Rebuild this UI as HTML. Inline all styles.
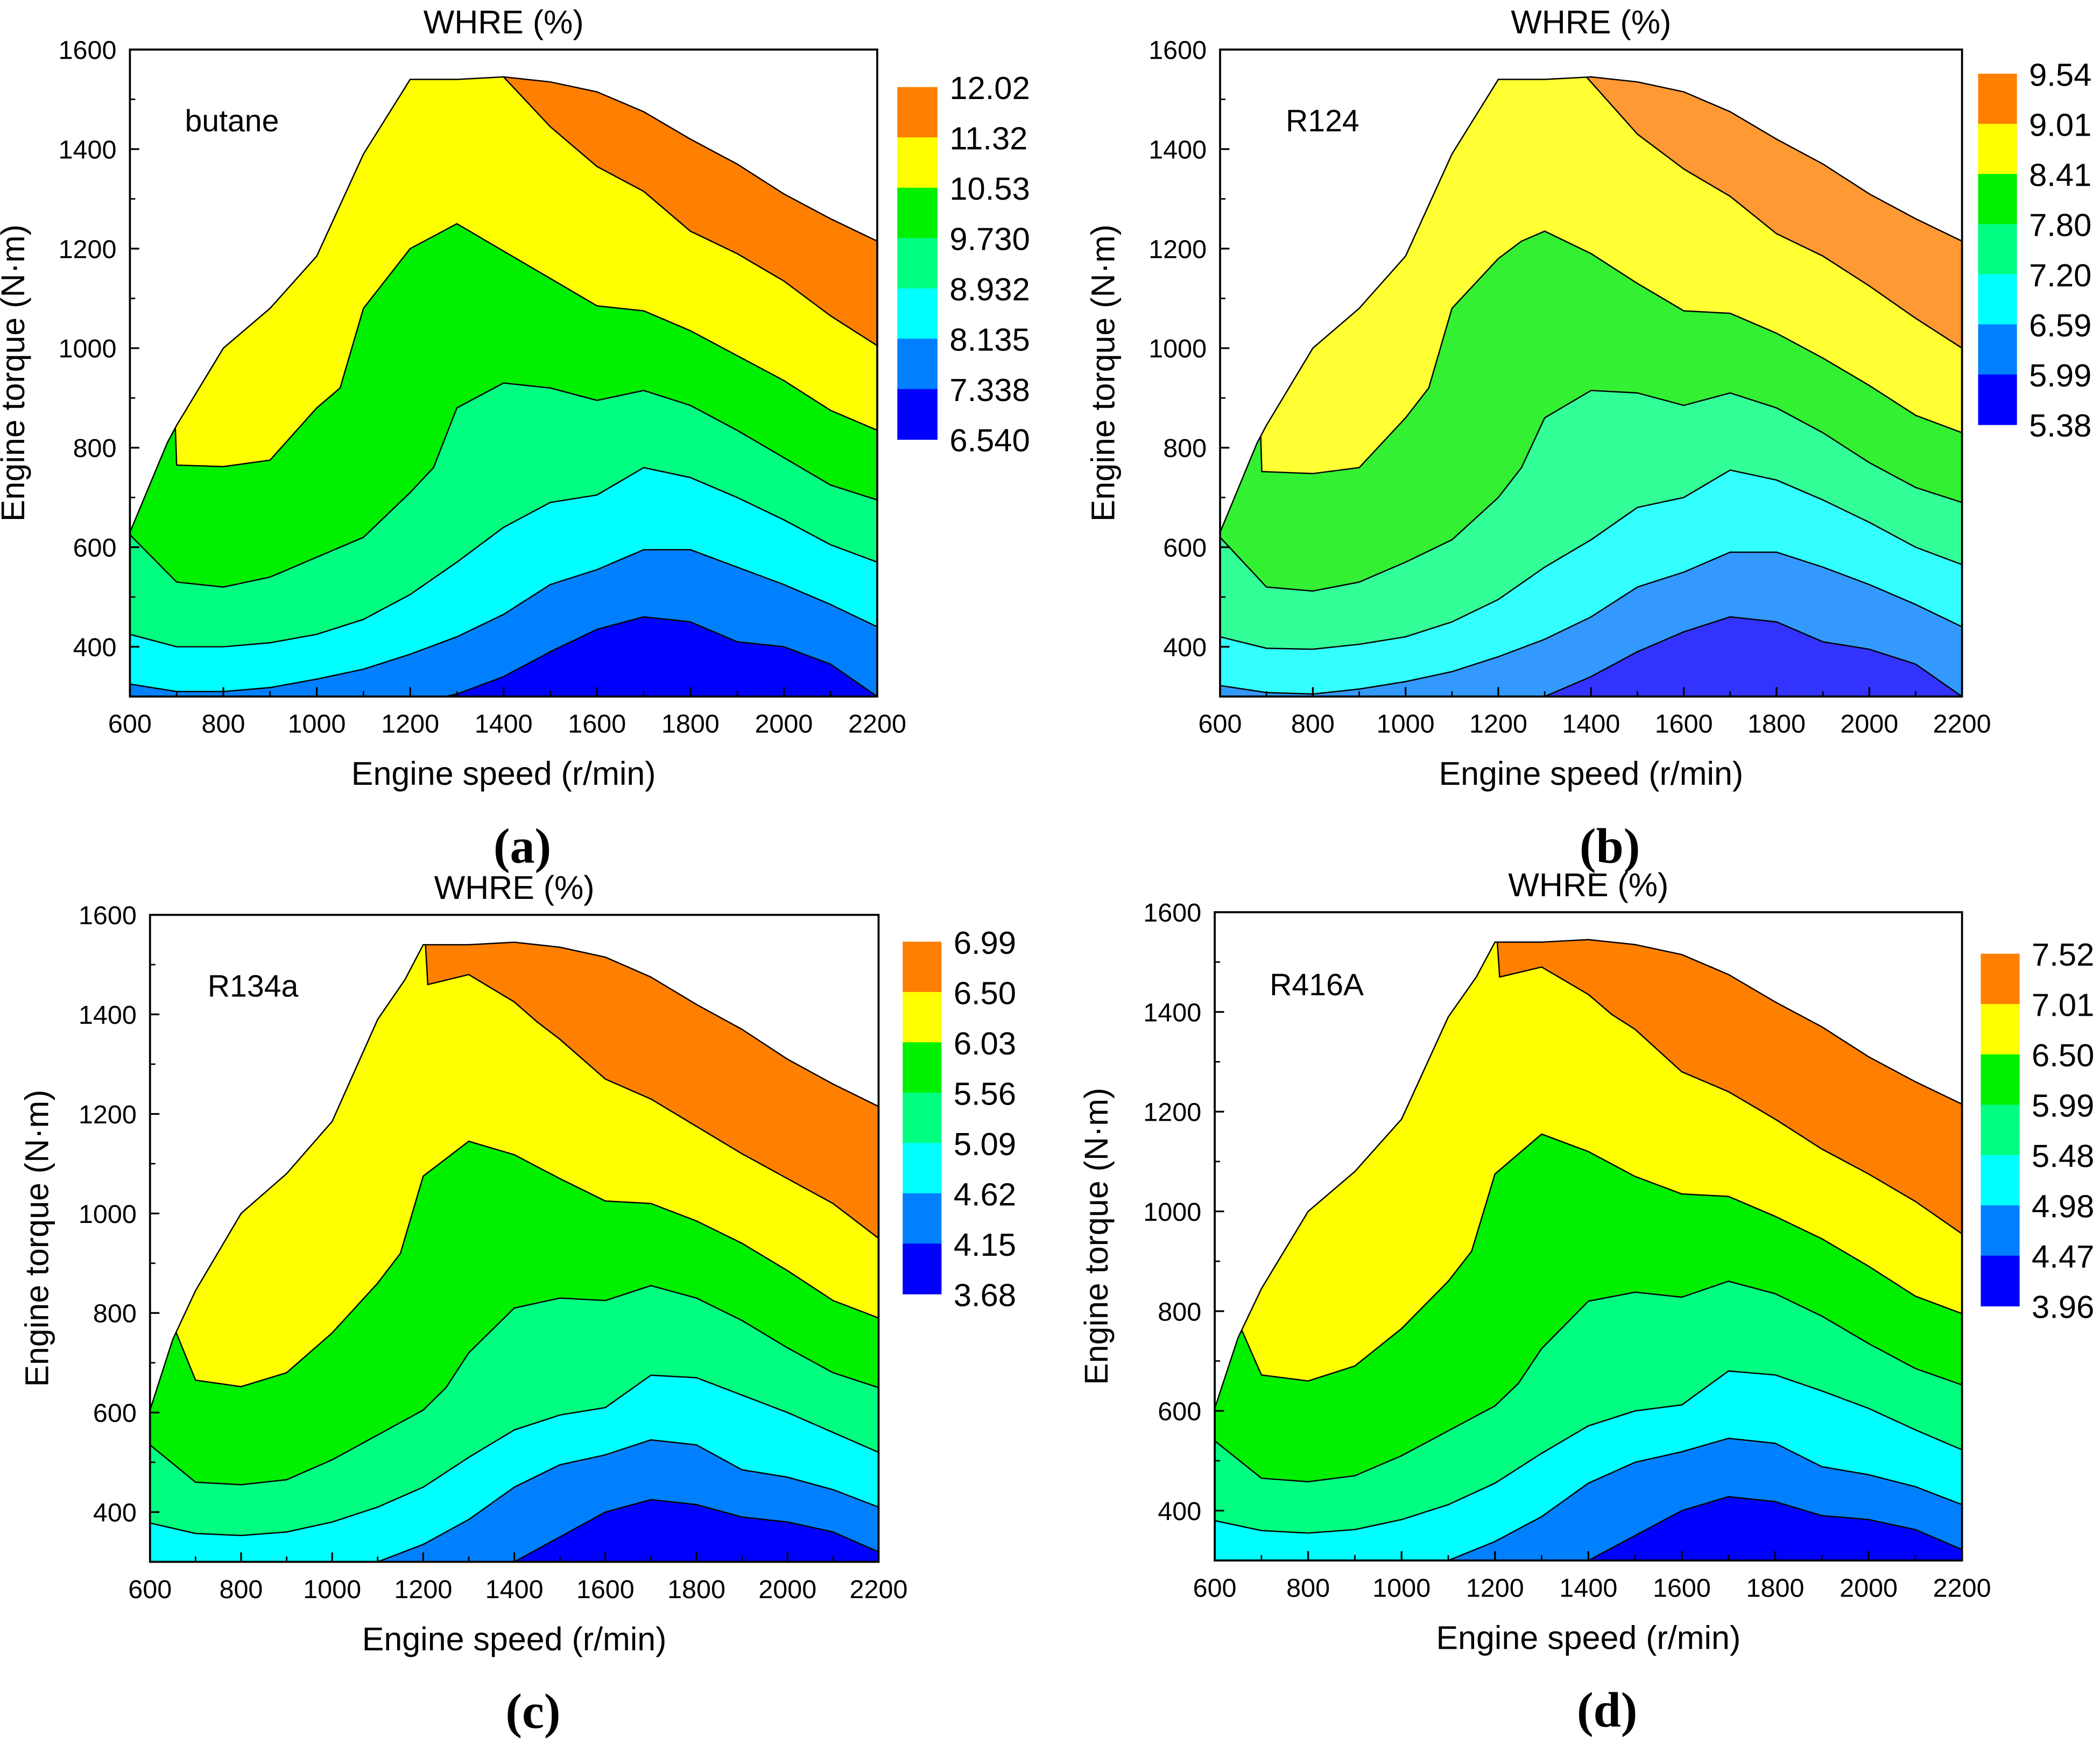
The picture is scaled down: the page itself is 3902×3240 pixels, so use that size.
<!DOCTYPE html>
<html><head><meta charset="utf-8"><style>
html,body{margin:0;padding:0;background:#fff;}
svg{display:block;}
text{font-family:"Liberation Sans",Arial,sans-serif;fill:#000;}
</style></head><body>
<svg id="fig" xmlns="http://www.w3.org/2000/svg" width="3902" height="3240" viewBox="0 0 1568 1302"></svg>
<script>
// ---------- data ----------
const xTicks = [600,800,1000,1200,1400,1600,1800,2000,2200];
const yTicks = [400,600,800,1000,1200,1400,1600];

const envSpeedAB = [600,680,700,800,900,1000,1100,1200,1300,1400,1500,1600,1700,1800,1900,2000,2100,2200];
const envTorqueAB = [630,810,845,1000,1080,1185,1390,1540,1540,1545,1535,1515,1475,1420,1370,1310,1260,1215];
const envSpeedCD = [600,650,700,800,900,1000,1100,1160,1200,1300,1400,1500,1600,1700,1800,1900,2000,2100,2200];
const envTorqueCD = [605,747,845,1000,1080,1185,1390,1470,1540,1540,1545,1535,1515,1475,1420,1370,1310,1260,1215];

// boundaries: [speeds, torques], from lowest level upward
const boundsA = [
 [[600,1250,1300,1400,1500,1600,1700,1800,1900,2000,2100,2200],[250,295,305,340,390,435,460,450,410,400,365,300]],
 [[600,700,800,900,1000,1100,1200,1300,1400,1500,1600,1700,1800,1900,2000,2100,2200],[325,310,310,318,335,355,385,420,465,525,555,595,595,560,525,485,440]],
 [[600,700,800,900,1000,1100,1200,1300,1400,1500,1600,1700,1800,1900,2000,2100,2200],[425,400,400,408,425,455,505,570,640,690,705,760,740,700,655,605,570]],
 [[600,700,800,900,1000,1100,1200,1250,1300,1400,1500,1600,1700,1800,1900,2000,2100,2200],[625,530,520,540,580,620,710,760,880,930,920,895,915,885,835,780,725,695]],
 [[695,700,800,900,1000,1050,1100,1200,1250,1300,1400,1500,1600,1700,1800,1900,2000,2100,2200],[900,765,762,775,880,920,1080,1200,1225,1250,1195,1140,1085,1075,1035,985,935,875,835]],
 [[1400,1500,1600,1700,1800,1900,2000,2100,2200],[1545,1445,1365,1315,1235,1190,1135,1065,1005]]
];
const boundsB = [
 [[600,1300,1400,1500,1600,1700,1800,1900,2000,2100,2200],[250,300,340,390,430,460,450,410,395,365,300]],
 [[600,700,800,900,1000,1100,1200,1300,1400,1500,1600,1700,1800,1900,2000,2100,2200],[322,308,305,315,330,350,380,415,460,520,550,590,590,560,525,485,440]],
 [[600,700,800,900,1000,1100,1200,1300,1400,1500,1600,1700,1800,1900,2000,2100,2200],[420,397,395,405,420,450,495,560,615,680,700,755,735,695,650,600,565]],
 [[600,700,800,900,1000,1100,1200,1250,1300,1400,1500,1600,1700,1800,1900,2000,2100,2200],[620,520,512,530,570,615,700,760,860,915,910,885,910,880,830,770,720,690]],
 [[685,690,800,900,1000,1050,1100,1200,1250,1300,1400,1500,1600,1700,1800,1900,2000,2100,2200],[900,752,748,760,860,920,1080,1180,1215,1235,1190,1130,1075,1070,1030,980,925,865,830]],
 [[1390,1500,1600,1700,1800,1900,2000,2100,2200],[1545,1430,1360,1305,1230,1185,1125,1060,1000]]
];
const boundsC = [
 [[600,1400,1500,1600,1700,1800,1900,2000,2100,2200],[250,300,350,400,425,415,390,380,360,320]],
 [[600,1100,1200,1300,1400,1500,1600,1700,1800,1900,2000,2100,2200],[250,300,335,385,450,495,515,545,535,485,470,445,410]],
 [[600,700,800,900,1000,1100,1200,1300,1400,1500,1600,1700,1800,1900,2000,2100,2200],[378,357,353,360,380,410,450,510,565,595,610,675,670,635,600,560,520]],
 [[600,700,800,900,1000,1100,1200,1250,1300,1400,1500,1600,1700,1800,1900,2000,2100,2200],[535,460,455,465,505,555,605,650,720,810,830,825,855,830,785,730,680,650]],
 [[640,700,800,900,1000,1100,1150,1200,1300,1400,1500,1600,1700,1800,1900,2000,2100,2200],[800,665,652,680,760,860,920,1075,1145,1118,1070,1025,1020,985,940,885,825,790]],
 [[1205,1210,1300,1400,1450,1500,1600,1700,1800,1900,2000,2100,2200],[1540,1460,1480,1425,1385,1350,1270,1230,1175,1120,1070,1020,950]]
];
const boundsD = [
 [[600,1400,1500,1600,1700,1800,1900,2000,2100,2200],[250,300,350,400,428,418,390,382,362,322]],
 [[600,1100,1200,1300,1400,1500,1600,1700,1800,1900,2000,2100,2200],[250,300,338,388,455,497,518,545,535,488,472,448,412]],
 [[600,700,800,900,1000,1100,1200,1300,1400,1500,1600,1700,1800,1900,2000,2100,2200],[380,360,355,362,382,412,455,515,570,600,612,680,672,640,605,562,522]],
 [[600,700,800,900,1000,1100,1200,1250,1300,1400,1500,1600,1700,1800,1900,2000,2100,2200],[540,465,458,470,510,560,610,655,725,820,838,828,860,835,790,735,685,652]],
 [[640,700,800,900,1000,1100,1150,1200,1300,1400,1500,1600,1700,1800,1900,2000,2100,2200],[800,672,660,690,765,860,920,1075,1155,1120,1070,1035,1030,990,945,890,830,795]],
 [[1205,1210,1300,1400,1450,1500,1600,1700,1800,1900,2000,2100,2200],[1540,1470,1490,1435,1395,1365,1280,1240,1185,1125,1075,1020,955]]
];

const legendA = ["12.02","11.32","10.53","9.730","8.932","8.135","7.338","6.540"];
const legendB = ["9.54","9.01","8.41","7.80","7.20","6.59","5.99","5.38"];
const legendC = ["6.99","6.50","6.03","5.56","5.09","4.62","4.15","3.68"];
const legendD = ["7.52","7.01","6.50","5.99","5.48","4.98","4.47","3.96"];

const colorsStd = ['#0000FF','#0080FF','#00FFFF','#00FF80','#00F000','#FFFF00','#FF8000'];
const colorsB = ['#3333FF','#3399FF','#33FFFF','#33FF99','#33F033','#FFFF33','#FF9933'];

// ---------- drawing ----------
const NS = "http://www.w3.org/2000/svg";
const svg = document.getElementById('fig');
function mk(tag, attrs, parent){
  const e = document.createElementNS(NS, tag);
  for (const k in attrs) e.setAttribute(k, attrs[k]);
  (parent||svg).appendChild(e);
  return e;
}
function txt(str, attrs, parent){ const t = mk('text', attrs, parent); t.textContent = str; return t; }

function panel(cfg){
  const g = mk('g', {});
  
  
  const sx = s => cfg.x0 + (s-600)/1600*(cfg.x1-cfg.x0);
  const ty = t => cfg.y1 - (t-300)/1300*(cfg.y1-cfg.y0);
  const pts = (S,T) => S.map((s,i)=>sx(s).toFixed(2)+','+ty(T[i]).toFixed(2));
  const defs = mk('defs', {}, g);
  const cp = mk('clipPath', {id:'clip-'+cfg.id}, defs);
  const envPts = pts(cfg.envS, cfg.envT).concat([sx(2200)+','+ty(300), sx(600)+','+ty(300)]).join(' ');
  mk('polygon', {points: envPts}, cp);
  const cg = mk('g', {'clip-path':'url(#clip-'+cfg.id+')'}, g);
  const base = mk('polygon', {points: envPts, fill: cfg.colors[0]}, cg);
  
  
  cfg.bounds.forEach((b,i)=>{
    const S=b[0], T=b[1];
    const p = pts(S,T).concat([sx(S[S.length-1])+','+ty(1700), sx(S[0])+','+ty(1700)]).join(' ');
    const band = mk('polygon', {points:p, fill: cfg.colors[i+1]}, cg);
    
    
  });
  cfg.bounds.forEach((b,i)=>{
    const line = mk('polyline', {points: pts(b[0],b[1]).join(' '), fill:'none', stroke:'#000', 'stroke-width':1}, cg);
    
    
  });
  const env = mk('polyline', {points: pts(cfg.envS, cfg.envT).join(' '), fill:'none', stroke:'#000','stroke-width':1}, g);
  
  
  const fr = mk('rect', {x:cfg.x0, y:cfg.y0, width:cfg.x1-cfg.x0, height:cfg.y1-cfg.y0, fill:'none', stroke:'#000','stroke-width':1.5}, g);
  
  
  xTicks.forEach((v,i)=>{
    const x = sx(v);
    mk('line', {x1:x, x2:x, y1:cfg.y1, y2:cfg.y1-7, stroke:'#000','stroke-width':1.3}, g);
    if (i < xTicks.length-1){ const xm = sx(v+100); mk('line', {x1:xm,x2:xm,y1:cfg.y1,y2:cfg.y1-4,stroke:'#000','stroke-width':1.1}, g); }
    const t = txt(String(v), {x:x, y:cfg.y1+27, 'font-size':19.5, 'text-anchor':'middle'}, g);
    
    
  });
  yTicks.forEach(v=>{
    const y = ty(v);
    mk('line', {x1:cfg.x0, x2:cfg.x0+7, y1:y, y2:y, stroke:'#000','stroke-width':1.3}, g);
    const ym = ty(v-100); mk('line', {x1:cfg.x0,x2:cfg.x0+4,y1:ym,y2:ym,stroke:'#000','stroke-width':1.1}, g);
    const t = txt(String(v), {x:cfg.x0-10, y:y+7, 'font-size':19.5, 'text-anchor':'end'}, g);
    
    
  });
  const cx = (cfg.x0+cfg.x1)/2;
  const tt = txt('WHRE (%)', {x:cx, y:cfg.y0-12, 'font-size':24.5, 'text-anchor':'middle'}, g);
  
  
  const xt = txt('Engine speed (r/min)', {x:cx, y:cfg.y1+66, 'font-size':24.5, 'text-anchor':'middle'}, g);
  
  
  const ymid = (cfg.y0+cfg.y1)/2;
  const yt = txt('Engine torque (N\u00b7m)', {x:cfg.yTitleX, y:ymid, 'font-size':24.5, 'text-anchor':'middle', transform:'rotate(-90 '+cfg.yTitleX+' '+ymid+')'}, g);
  
  
  const fl = txt(cfg.fluid, {x:cfg.fluidX, y:cfg.fluidY, 'font-size':23}, g);
  
  
  const lt = txt(cfg.letterTxt, {x:cx+14, y:cfg.y1+124, 'font-size':37, 'text-anchor':'middle', 'font-weight':'bold', style:'font-family:"Liberation Serif",serif'}, g);
  
  
  const lg = mk('g', {}, g);
  
  
  const n = cfg.colors.length, h = (cfg.ly1-cfg.ly0)/n;
  for (let i=0;i<n;i++){
    const r = mk('rect', {x:cfg.lx, y:cfg.ly0+i*h, width:cfg.lw, height:h+0.3, fill: colorsStd[n-1-i]}, lg);
    
    
  }
  cfg.labels.forEach((s,i)=>{
    const t = txt(s, {x:cfg.lx+cfg.lw+9, y:cfg.ly0+i*h+9, 'font-size':24}, lg);
    
    
  });
}

panel({id:'a', x0:97, x1:655, y0:37, y1:520, envS:envSpeedAB, envT:envTorqueAB, bounds:boundsA, colors:colorsStd,
  labels:legendA, lx:670, lw:30, ly0:65, ly1:328, fluid:'butane', fluidX:138, fluidY:98, letterTxt:'(a)', yTitleX:18});
panel({id:'b', x0:911, x1:1465, y0:37, y1:520, envS:envSpeedAB, envT:envTorqueAB, bounds:boundsB, colors:colorsB,
  labels:legendB, lx:1477, lw:29, ly0:55, ly1:317, fluid:'R124', fluidX:960, fluidY:98, letterTxt:'(b)', yTitleX:832});
panel({id:'c', x0:112, x1:656, y0:683, y1:1166, envS:envSpeedCD, envT:envTorqueCD, bounds:boundsC, colors:colorsStd,
  labels:legendC, lx:674, lw:29, ly0:703, ly1:966, fluid:'R134a', fluidX:155, fluidY:744, letterTxt:'(c)', yTitleX:36});
panel({id:'d', x0:907, x1:1465, y0:681, y1:1165, envS:envSpeedCD, envT:envTorqueCD, bounds:boundsD, colors:colorsStd,
  labels:legendD, lx:1479, lw:29, ly0:712, ly1:975, fluid:'R416A', fluidX:948, fluidY:743, letterTxt:'(d)', yTitleX:827});
</script>
</body></html>
